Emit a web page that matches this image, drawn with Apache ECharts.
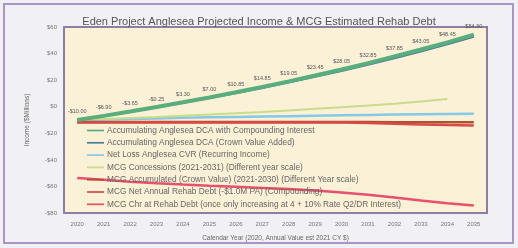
<!DOCTYPE html>
<html><head><meta charset="utf-8">
<script src="https://cdn.jsdelivr.net/npm/echarts@6/dist/echarts.min.js"></script>
<style>html,body{margin:0;padding:0;background:#f1f0f4;}#c{width:518px;height:248px;}</style>
</head><body><div id="c"></div>
<script>
const title = "Eden Project Anglesea Projected Income & MCG Estimated Rehab Debt";
const years = ["2020","2021","2022","2023","2024","2025","2026","2027","2028","2029","2030","2031","2032","2033","2034","2035"];
const yTicks = [-80,-60,-40,-20,0,20,40,60];
const dcaCompound = [-10,-6.9,-3.65,-0.25,3.3,7.0,10.85,14.85,19.05,23.45,28.05,32.85,37.85,43.05,48.45,54.3];
const dcaCrown = [-10,-7.1,-3.9,-0.6,2.9,6.5,10.2,14.1,18.2,22.5,26.9,31.6,36.5,41.6,46.9,52.6];
const netLoss = [-10,-9.6,-9.2,-8.8,-8.4,-8.0,-7.7,-7.4,-7.1,-6.8,-6.5,-6.2,-5.9,-5.7,-5.5,-5.3];
const mcgConcess = [-10,-9.3,-8.5,-7.7,-6.8,-5.9,-4.9,-3.9,-2.8,-1.6,-0.4,0.9,2.3,3.9,5.8,null];
const mcgAccum = [-11.5,-11.5,-11.5,-11.5,-11.5,-11.5,-11.5,-11.5,-11.5,-11.5,-11.5,-11.5,-11.6,-11.6,-11.6,-11.6];
const mcgNetAnnual = [-11.8,-11.8,-11.8,-11.8,-11.8,-11.8,-11.8,-11.8,-11.8,-11.8,-11.9,-12.2,-12.8,-13.3,-13.8,-14.2];
const mcgChrDebt = [-53.7,-55,-56.4,-57.6,-58.6,-59.5,-60.3,-61.1,-62,-63.1,-64.5,-66.2,-68.4,-70.6,-72.6,-74.4];
const legendNames = [
 "Accumulating Anglesea DCA with Compounding Interest",
 "Accumulating Anglesea DCA (Crown Value Added)",
 "Net Loss Anglesea CVR (Recurring Income)",
 "MCG Concessions (2021-2031) (Different year scale)",
 "MCG Accumulated (Crown Value) (2021-2030) (Different Year scale)",
 "MCG Net Annual Rehab Debt (-$1.0M PA) (Compounding)",
 "MCG Chr at Rehab Debt (once only increasing at 4 + 10% Rate Q2/DR Interest)"
];
const seriesData = [dcaCompound, dcaCrown, netLoss, mcgConcess, mcgAccum, mcgNetAnnual, mcgChrDebt];
const colors = ["#5aae7e","#4a7f99","#86c9e6","#c9dc8a","#b0502e","#d84a4a","#e8506e"];
const widths = [4,2,2.5,2,2.5,2.5,2.5];
const fmt = v => (v<0?"-$":"$") + Math.abs(v).toFixed(2);
const chart = echarts.init(document.getElementById('c'), null, {renderer:'canvas'});
const series = legendNames.map((n,i)=>({
  name:n, type:'line', data:seriesData[i],
  symbol: i===0 ? 'circle' : 'none', symbolSize: 0.1, showSymbol: i===0,
  lineStyle:{color:colors[i], width:widths[i]}, itemStyle:{color:colors[i]},
  z: i===0?5:(i===1?4:3),
  label: i===0 ? {show:true, position:'top', distance:5, fontSize:5.5, color:'#555', fontFamily:'Liberation Sans', formatter:p=>fmt(p.value)} : {show:false}
}));
chart.setOption({
  animation:false,
  backgroundColor:'#f1f0f4',
  title:{text:title, left:'center', top:11, textStyle:{fontSize:11, fontWeight:'normal', color:'#555', fontFamily:'Liberation Sans'}},
  grid:{left:64, right:31, top:27, bottom:35, show:true, backgroundColor:'#fbf1d6', borderColor:'#8c7fa6', borderWidth:2, containLabel:false},
  legend:{orient:'vertical', left:82, top:121, itemWidth:17, itemHeight:6, itemGap:3.3,
    data:legendNames.map((n,i)=>({name:n, itemStyle:{color:colors[i]}, icon:'path://M0,2L20,2L20,4L0,4Z'})),
    textStyle:{fontSize:8.3, lineHeight:9, color:'#666', fontFamily:'Liberation Sans', padding:[0,0,0,-2]}},
  xAxis:{type:'category', data:years, boundaryGap:true,
    name:"Calendar Year (2020, Annual Value est 2021 CY $)", nameLocation:'middle', nameGap:22,
    nameTextStyle:{fontSize:6.5, color:'#666', fontFamily:'Liberation Sans'},
    axisLine:{show:false}, axisTick:{show:false},
    axisLabel:{fontSize:6, color:'#777', margin:8, fontFamily:'Liberation Sans'}},
  yAxis:{type:'value', min:yTicks[0], max:yTicks[yTicks.length-1], interval:20,
    name:"Income ($Millions)", nameLocation:'middle', nameGap:33,
    nameTextStyle:{fontSize:6.5, color:'#666', fontFamily:'Liberation Sans'},
    splitLine:{show:false}, axisLine:{show:false}, axisTick:{show:false},
    axisLabel:{fontSize:6, color:'#777', margin:7, fontFamily:'Liberation Sans', formatter:v=>(v<0?"-$":"$")+Math.abs(v)}},
  graphic:[{type:'rect', shape:{x:4,y:4,width:509,height:239}, style:{fill:'none', stroke:'#a796c6', lineWidth:2}, z:-1}],
  series: series
});
</script></body></html>
